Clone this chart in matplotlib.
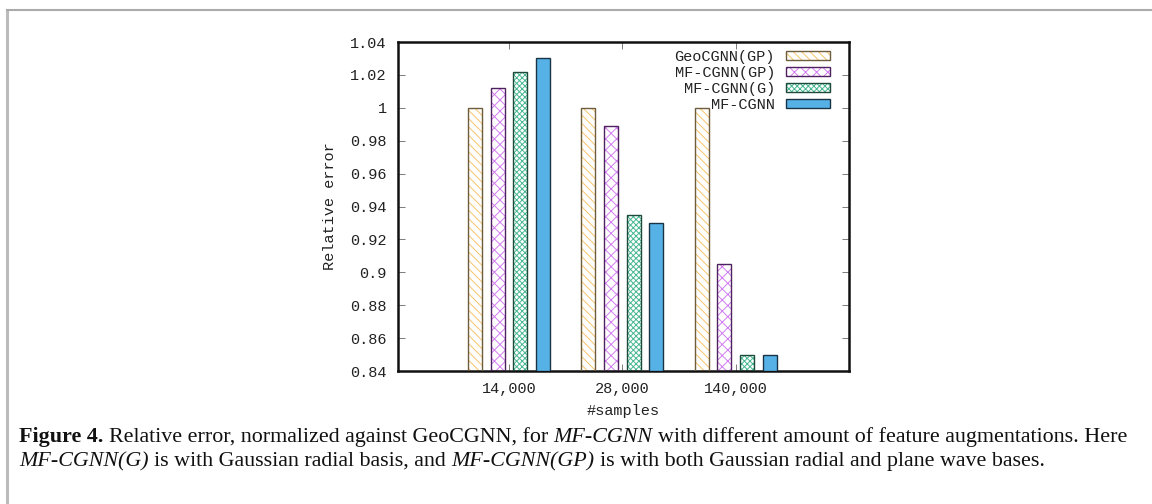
import numpy as np
import matplotlib
matplotlib.use('Agg')
import matplotlib.pyplot as plt
from matplotlib.patches import Rectangle
from matplotlib.legend_handler import HandlerTuple

# dados
grupos = ['14,000', '28,000', '140,000']
series = ['GeoCGNN(GP)', 'MF-CGNN(GP)', 'MF-CGNN(G)', 'MF-CGNN']
geo_gp = [1.000, 1.000, 1.000]
mf_gp = [1.0118, 0.989, 0.905]
mf_g = [1.0215, 0.9346, 0.850]
mf = [1.030, 0.930, 0.850]
valores = [geo_gp, mf_gp, mf_g, mf]

y_ticks = [0.84, 0.86, 0.88, 0.90, 0.92, 0.94, 0.96, 0.98, 1.00, 1.02, 1.04]
y_tick_labels = ['0.84', '0.86', '0.88', '0.9', '0.92', '0.94', '0.96',
                 '0.98', '1', '1.02', '1.04']

# estilo de cada serie: (cor do hachurado, hachura, cor da borda, preenchimento)
estilos = [
    ('#f7c46c', '\\\\\\\\', '#6e5c3c', 'none'),
    ('#d27cf2', 'xxx', '#4e2260', 'none'),
    ('#48b892', 'xxxxxx', '#1d4a3c', 'none'),
    (None, '', '#1b3346', '#56b2e6'),
]

plt.rcParams['hatch.linewidth'] = 0.7
mono = 'Liberation Mono'
fs = 11

fig = plt.figure(figsize=(11.52, 5.04), dpi=100)
ax = fig.add_axes([398 / 1152, 1 - 371 / 504, 451 / 1152, 329 / 504])

x = np.arange(1, len(grupos) + 1)
largura = 0.125
passo = 0.2
handles = []
for i, (vals, est) in enumerate(zip(valores, estilos)):
    cor_h, hatch, borda, fill = est
    pos = x + (i - 1.5) * passo
    base = 0.84
    alturas = np.array(vals) - base
    if cor_h is not None:
        ax.bar(pos, alturas, largura, bottom=base, color='none',
               edgecolor=cor_h, hatch=hatch, linewidth=0, zorder=2)
        ax.bar(pos, alturas, largura, bottom=base, color='none',
               edgecolor=borda, linewidth=1.0, zorder=3)
        h1 = Rectangle((0, 0), 1, 1, facecolor='none', edgecolor=cor_h,
                       hatch=hatch, linewidth=0)
        h2 = Rectangle((0, 0), 1, 1, facecolor='none', edgecolor=borda,
                       linewidth=1.0)
        handles.append((h1, h2))
    else:
        ax.bar(pos, alturas, largura, bottom=base, color=fill,
               edgecolor=borda, linewidth=1.0, zorder=3)
        handles.append(Rectangle((0, 0), 1, 1, facecolor=fill,
                                 edgecolor=borda, linewidth=1.0))

ax.set_xlim(0.02, 4.0)
ax.set_ylim(0.84, 1.04)
ax.set_yticks(y_ticks)
ax.set_yticklabels(y_tick_labels, family=mono, fontsize=fs, color='#222222')
ax.set_xticks(x)
ax.set_xticklabels(grupos, family=mono, fontsize=fs, color='#222222')
ax.tick_params(axis='both', direction='in', length=5, width=0.6,
               color='#666666', top=True, right=True, pad=8)
for s in ax.spines.values():
    s.set_linewidth(1.8)
    s.set_color('#111111')

ax.set_xlabel('#samples', family=mono, fontsize=fs, color='#222222',
              labelpad=6)
ax.set_ylabel('Relative error', family=mono, fontsize=fs, color='#222222',
              labelpad=10)

leg = ax.legend(handles, series, loc='upper right', frameon=False,
                markerfirst=False, prop={'family': mono, 'size': fs},
                handler_map={tuple: HandlerTuple(ndivide=1)},
                handlelength=2.85, handleheight=0.5, labelspacing=0.12,
                handletextpad=0.75, borderaxespad=0,
                bbox_to_anchor=(1 - 13 / 451, 1 - 2 / 329))
for t in leg.get_texts():
    t.set_color('#222222')

# moldura cinza da pagina
fig.add_artist(plt.Line2D([7 / 1152, 7 / 1152], [0, 1 - 10 / 504],
                          color='#bbbbbb', linewidth=2.2))
fig.add_artist(plt.Line2D([7 / 1152, 1], [1 - 10 / 504, 1 - 10 / 504],
                          color='#aaaaaa', linewidth=1.5))

# legenda da figura (texto em partes com estilos diferentes)
serif = 'Liberation Serif'
tam = 15.8
renderer = fig.canvas.get_renderer()
W = fig.bbox.width


def largura_txt(s, style='normal', weight='normal'):
    t = fig.text(0, 0, s, fontsize=tam, family=serif, style=style,
                 weight=weight)
    w = t.get_window_extent(renderer).width
    t.remove()
    return w


esp = largura_txt('a a') - largura_txt('aa')


def linha(y, partes):
    xp = 19
    for s, style, weight in partes:
        if s == ' ':
            xp += esp
            continue
        t = fig.text(xp / W, y, s, fontsize=tam, family=serif, style=style,
                     weight=weight, color='#111111', va='baseline')
        xp += t.get_window_extent(renderer).width


N, I, B = 'normal', 'italic', 'bold'
linha(1 - 442 / 504, [
    ('Figure 4.', N, B), (' ', N, N),
    ('Relative error, normalized against GeoCGNN, for', N, N), (' ', N, N),
    ('MF-CGNN', I, N), (' ', N, N),
    ('with different amount of feature augmentations. Here', N, N)])
linha(1 - 466 / 504, [
    ('MF-CGNN(G)', I, N), (' ', N, N),
    ('is with Gaussian radial basis, and', N, N), (' ', N, N),
    ('MF-CGNN(GP)', I, N), (' ', N, N),
    ('is with both Gaussian radial and plane wave bases.', N, N)])

fig.savefig('out.png', dpi=100)
